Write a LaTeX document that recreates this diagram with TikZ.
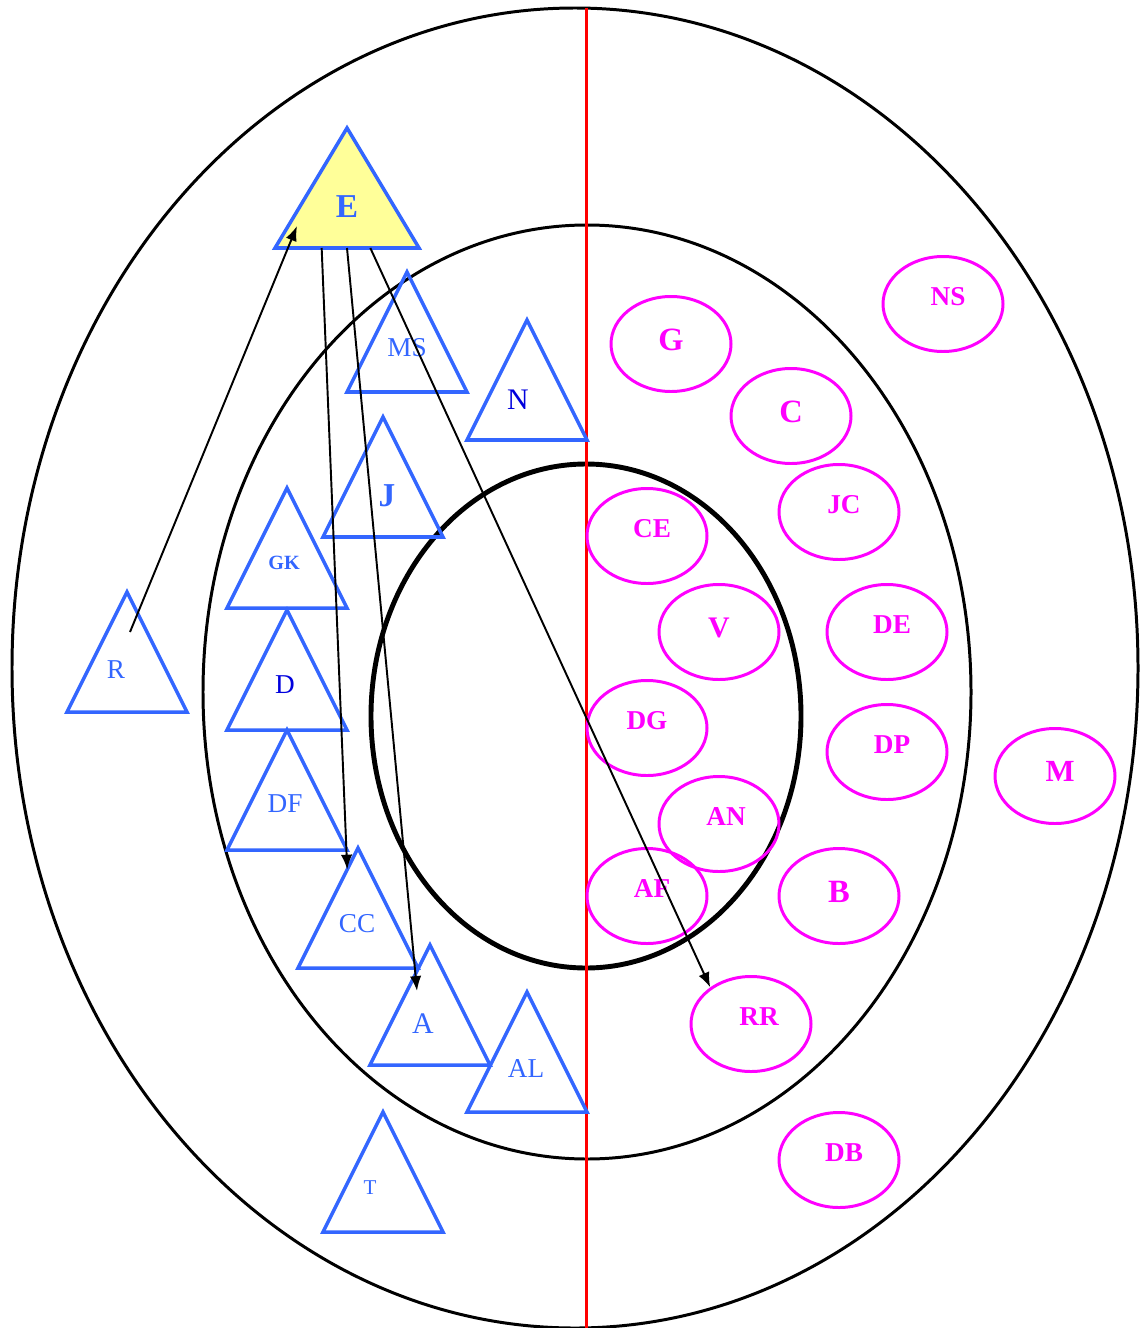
\documentclass[tikz,border=0pt]{standalone}
\usepackage{fontspec}
\setmainfont{Liberation Serif}
\usepackage{tikz}
\usetikzlibrary{positioning,arrows.meta,calc,shapes.geometric}
\definecolor{TriBlue}{HTML}{3366FF}
\definecolor{DeepBlue}{HTML}{0000DD}
\definecolor{Pink}{HTML}{FF00FF}
\definecolor{PaleYellow}{HTML}{FFFF99}

% triangle: name, apex x, apex y, half width, extra style, label, label offset
\newcommand{\tri}[7]{%
  \coordinate (#1-a) at (#2,#3);
  \coordinate (#1-l) at ($(#1-a)+(-#4,120)$);
  \coordinate (#1-r) at ($(#1-a)+(#4,120)$);
  \draw[tribox,#5] (#1-a) -- (#1-l) -- (#1-r) -- cycle;
  \node[trilabel] (#1) at ($(#1-a)+(#7)$) {#6};}

\begin{document}
\begin{tikzpicture}[x=0.02cm,y=-0.02cm,
    tribox/.style={draw=TriBlue,line width=2pt,line join=miter},
    trilabel/.style={text=TriBlue,inner sep=0pt,font=\fontsize{15.5}{18}\selectfont},
    blob/.style={draw=Pink,line width=1.7pt,ellipse,minimum width=120*0.02cm,
                 minimum height=95*0.02cm,inner sep=0pt},
    pinklbl/.style={text=Pink,inner sep=0pt,xshift=0.1cm,yshift=0.15cm,
                 font=\fontsize{15.5}{18}\selectfont\bfseries},
    big/.style={xshift=-0.1cm,yshift=-0.07cm,font=\fontsize{18.5}{20}\selectfont\bfseries},
    ring/.style={draw=black,line width=1.7pt},
    ar/.style={-{Latex[length=8.5pt,width=6.5pt]},black,line width=1.1pt}]
  \useasboundingbox (0,0) rectangle (1141,1328);

  % rings and divider
  \draw[ring] (575,668) ellipse [x radius=563,y radius=660];
  \draw[ring] (587,692) ellipse [x radius=384,y radius=467];
  \draw[ring,line width=2.8pt] (586,716) ellipse [x radius=215,y radius=252];
  \draw[red,line width=1.7pt] (586,8) -- (586,1328);

  % triangles
  \tri{E}{347}{128}{72}{fill=PaleYellow}{\fontsize{19}{20}\selectfont\bfseries E}{0,79}
  \tri{MS}{407}{272}{60}{}{MS}{0,76}
  \tri{N}{527}{320}{60}{}{\textcolor{DeepBlue}{\fontsize{17}{20}\selectfont N}}{-9,80}
  \tri{J}{383}{417}{60}{}{\fontsize{19}{20}\selectfont\bfseries J}{4,79}
  \tri{GK}{287}{488}{60}{}{\fontsize{11.5}{14}\selectfont\bfseries GK}{-3,75}
  \tri{R}{127}{592}{60}{}{R}{-11,78}
  \tri{D}{287}{610}{60}{}{\textcolor{DeepBlue}{D}}{-2,75}
  \tri{DF}{287}{730}{60}{}{DF}{-2,74}
  \tri{CC}{358}{848}{60}{}{CC}{-1,76}
  \tri{A}{430}{945}{60}{}{\fontsize{17}{20}\selectfont A}{-7,79}
  \tri{AL}{527}{992}{60}{}{AL}{-1,76}
  \tri{T}{383}{1112}{60}{}{\fontsize{12}{14}\selectfont T}{-13,76}

  % ellipses
  \node[blob,label={[pinklbl,big]center:G}] (G) at (671,344) {};
  \node[blob,label={[pinklbl]center:NS}] (NS) at (943,304) {};
  \node[blob,label={[pinklbl,big]center:C}] (C) at (791,416) {};
  \node[blob,label={[pinklbl]center:CE}] (CE) at (647,536) {};
  \node[blob,label={[pinklbl]center:JC}] (JC) at (839,512) {};
  \node[blob,label={[pinklbl,xshift=-0.1cm,yshift=-0.07cm,font=\fontsize{17}{20}\selectfont\bfseries]center:V}] (V) at (719,632) {};
  \node[blob,label={[pinklbl]center:DE}] (DE) at (887,632) {};
  \node[blob,label={[pinklbl,xshift=-0.1cm]center:DG}] (DG) at (647,728) {};
  \node[blob,label={[pinklbl]center:DP}] (DP) at (887,752) {};
  \node[blob,label={[pinklbl,yshift=-0.05cm,font=\fontsize{17.5}{20}\selectfont\bfseries]center:M}] (M) at (1055,776) {};
  \node[blob,label={[pinklbl,xshift=0.04cm]center:AN}] (AN) at (719,824) {};
  \node[blob,label={[pinklbl]center:AF}] (AF) at (647,896) {};
  \node[blob,label={[pinklbl,big]center:B}] (B) at (839,896) {};
  \node[blob,label={[pinklbl,xshift=0.06cm]center:RR}] (RR) at (751,1024) {};
  \node[blob,label={[pinklbl]center:DB}] (DB) at (839,1160) {};

  % arrows
  \draw[ar] ($(R-a)+(3,40)$) -- ($(E-a)+(-50,98)$);
  \draw[ar] ($(E-l)!0.324!(E-r)$) -- ($(CC-a)!0.18!(CC-l)$);
  \draw[ar] ($(E-l)!0.5!(E-r)$) -- ($(A-a)+(-13,46)$);
  \draw[ar] ($(E-l)!0.662!(E-r)$) -- (RR.138);
\end{tikzpicture}
\end{document}
